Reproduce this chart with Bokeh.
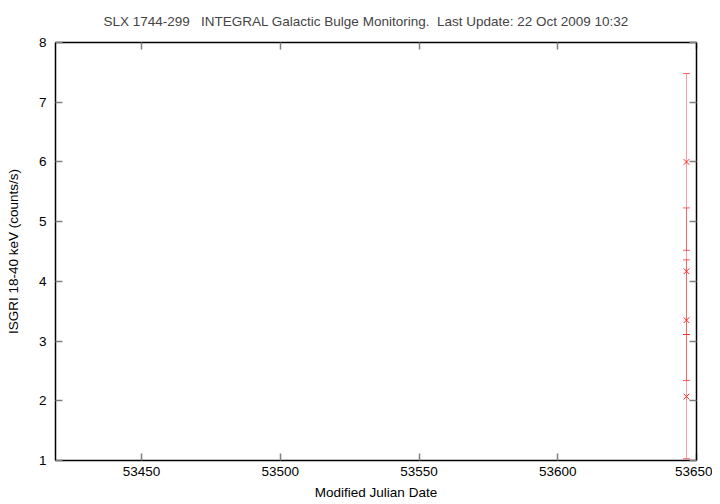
from bokeh.plotting import figure
from bokeh.models import LinearAxis, FixedTicker, Range1d, Whisker, ColumnDataSource, TeeHead
from bokeh.embed import file_html
from bokeh.resources import INLINE

# Data
mjd = [53646.4, 53646.4, 53646.4, 53646.4]
rate = [6.00, 4.17, 3.35, 2.07]
rate_err = [1.48, 1.06, 1.01, 1.04]

x_ticks = [53450, 53500, 53550, 53600, 53650]
y_ticks = [1, 2, 3, 4, 5, 6, 7, 8]

NB = "\u00a0"
title_text = ("SLX 1744-299" + NB * 2 + " INTEGRAL Galactic Bulge Monitoring." + NB
              + " Last Update: 22 Oct 2009 10:32")
x_label = "Modified Julian Date"
y_label = "ISGRI 18-40 keV (counts/s)"

FONT = "Liberation Sans"
FS = "13.5px"

src = ColumnDataSource(dict(
    x=mjd, y=rate,
    lo=[r - e for r, e in zip(rate, rate_err)],
    hi=[r + e for r, e in zip(rate, rate_err)],
))

p = figure(width=712, height=502,
           x_range=Range1d(53419, 53650), y_range=Range1d(1, 8),
           output_backend="svg", toolbar_location=None,
           min_border_left=55, min_border_right=16,
           min_border_top=42, min_border_bottom=40)

p.title.text = title_text
p.title.align = "left"
p.title.vertical_align = "top"
p.title.text_font = FONT
p.title.text_font_size = FS
p.title.text_font_style = "normal"
p.title.standoff = 24
p.title.offset = 48

p.xgrid.visible = False
p.ygrid.visible = False
p.outline_line_color = "black"
p.outline_line_width = 1
p.background_fill_color = "white"
p.border_fill_color = "white"

def style_axis(ax, ticks, labels=True):
    ax.ticker = FixedTicker(ticks=ticks)
    ax.minor_tick_line_color = None
    ax.major_tick_in = 7
    ax.major_tick_out = 0
    ax.major_tick_line_color = "#808080"
    ax.major_tick_line_width = 1.5
    ax.axis_line_color = "black"
    ax.axis_line_width = 1.5
    ax.major_label_text_font = FONT
    ax.major_label_text_font_size = FS
    ax.major_label_text_color = "black" if labels else None
    ax.axis_label_text_font = FONT
    ax.axis_label_text_font_size = FS
    ax.axis_label_text_font_style = "normal"
    ax.axis_label_text_color = "black"

style_axis(p.xaxis[0], x_ticks)
style_axis(p.yaxis[0], y_ticks)
p.xaxis[0].axis_label = x_label
p.yaxis[0].axis_label = y_label
p.xaxis[0].major_label_standoff = 6
p.xaxis[0].axis_label_standoff = 6
p.yaxis[0].major_label_standoff = 9
p.yaxis[0].axis_label_standoff = 15

top = LinearAxis()
style_axis(top, x_ticks, labels=False)
top.major_label_text_font_size = "0px"
right = LinearAxis()
style_axis(right, y_ticks, labels=False)
right.major_label_text_font_size = "0px"
p.add_layout(top, "above")
p.add_layout(right, "right")

w = Whisker(source=src, base="x", lower="lo", upper="hi", dimension="height",
            line_color="#ff2020", line_alpha=0.45, line_width=1,
            upper_head=TeeHead(size=7, line_color="#ff2020", line_alpha=0.7, line_width=1),
            lower_head=TeeHead(size=7, line_color="#ff2020", line_alpha=0.7, line_width=1))
p.add_layout(w)

p.scatter("x", "y", source=src, marker="x", size=8, line_color="#ff2020", line_width=1)

open("out.html", "w").write(file_html(p, INLINE))
